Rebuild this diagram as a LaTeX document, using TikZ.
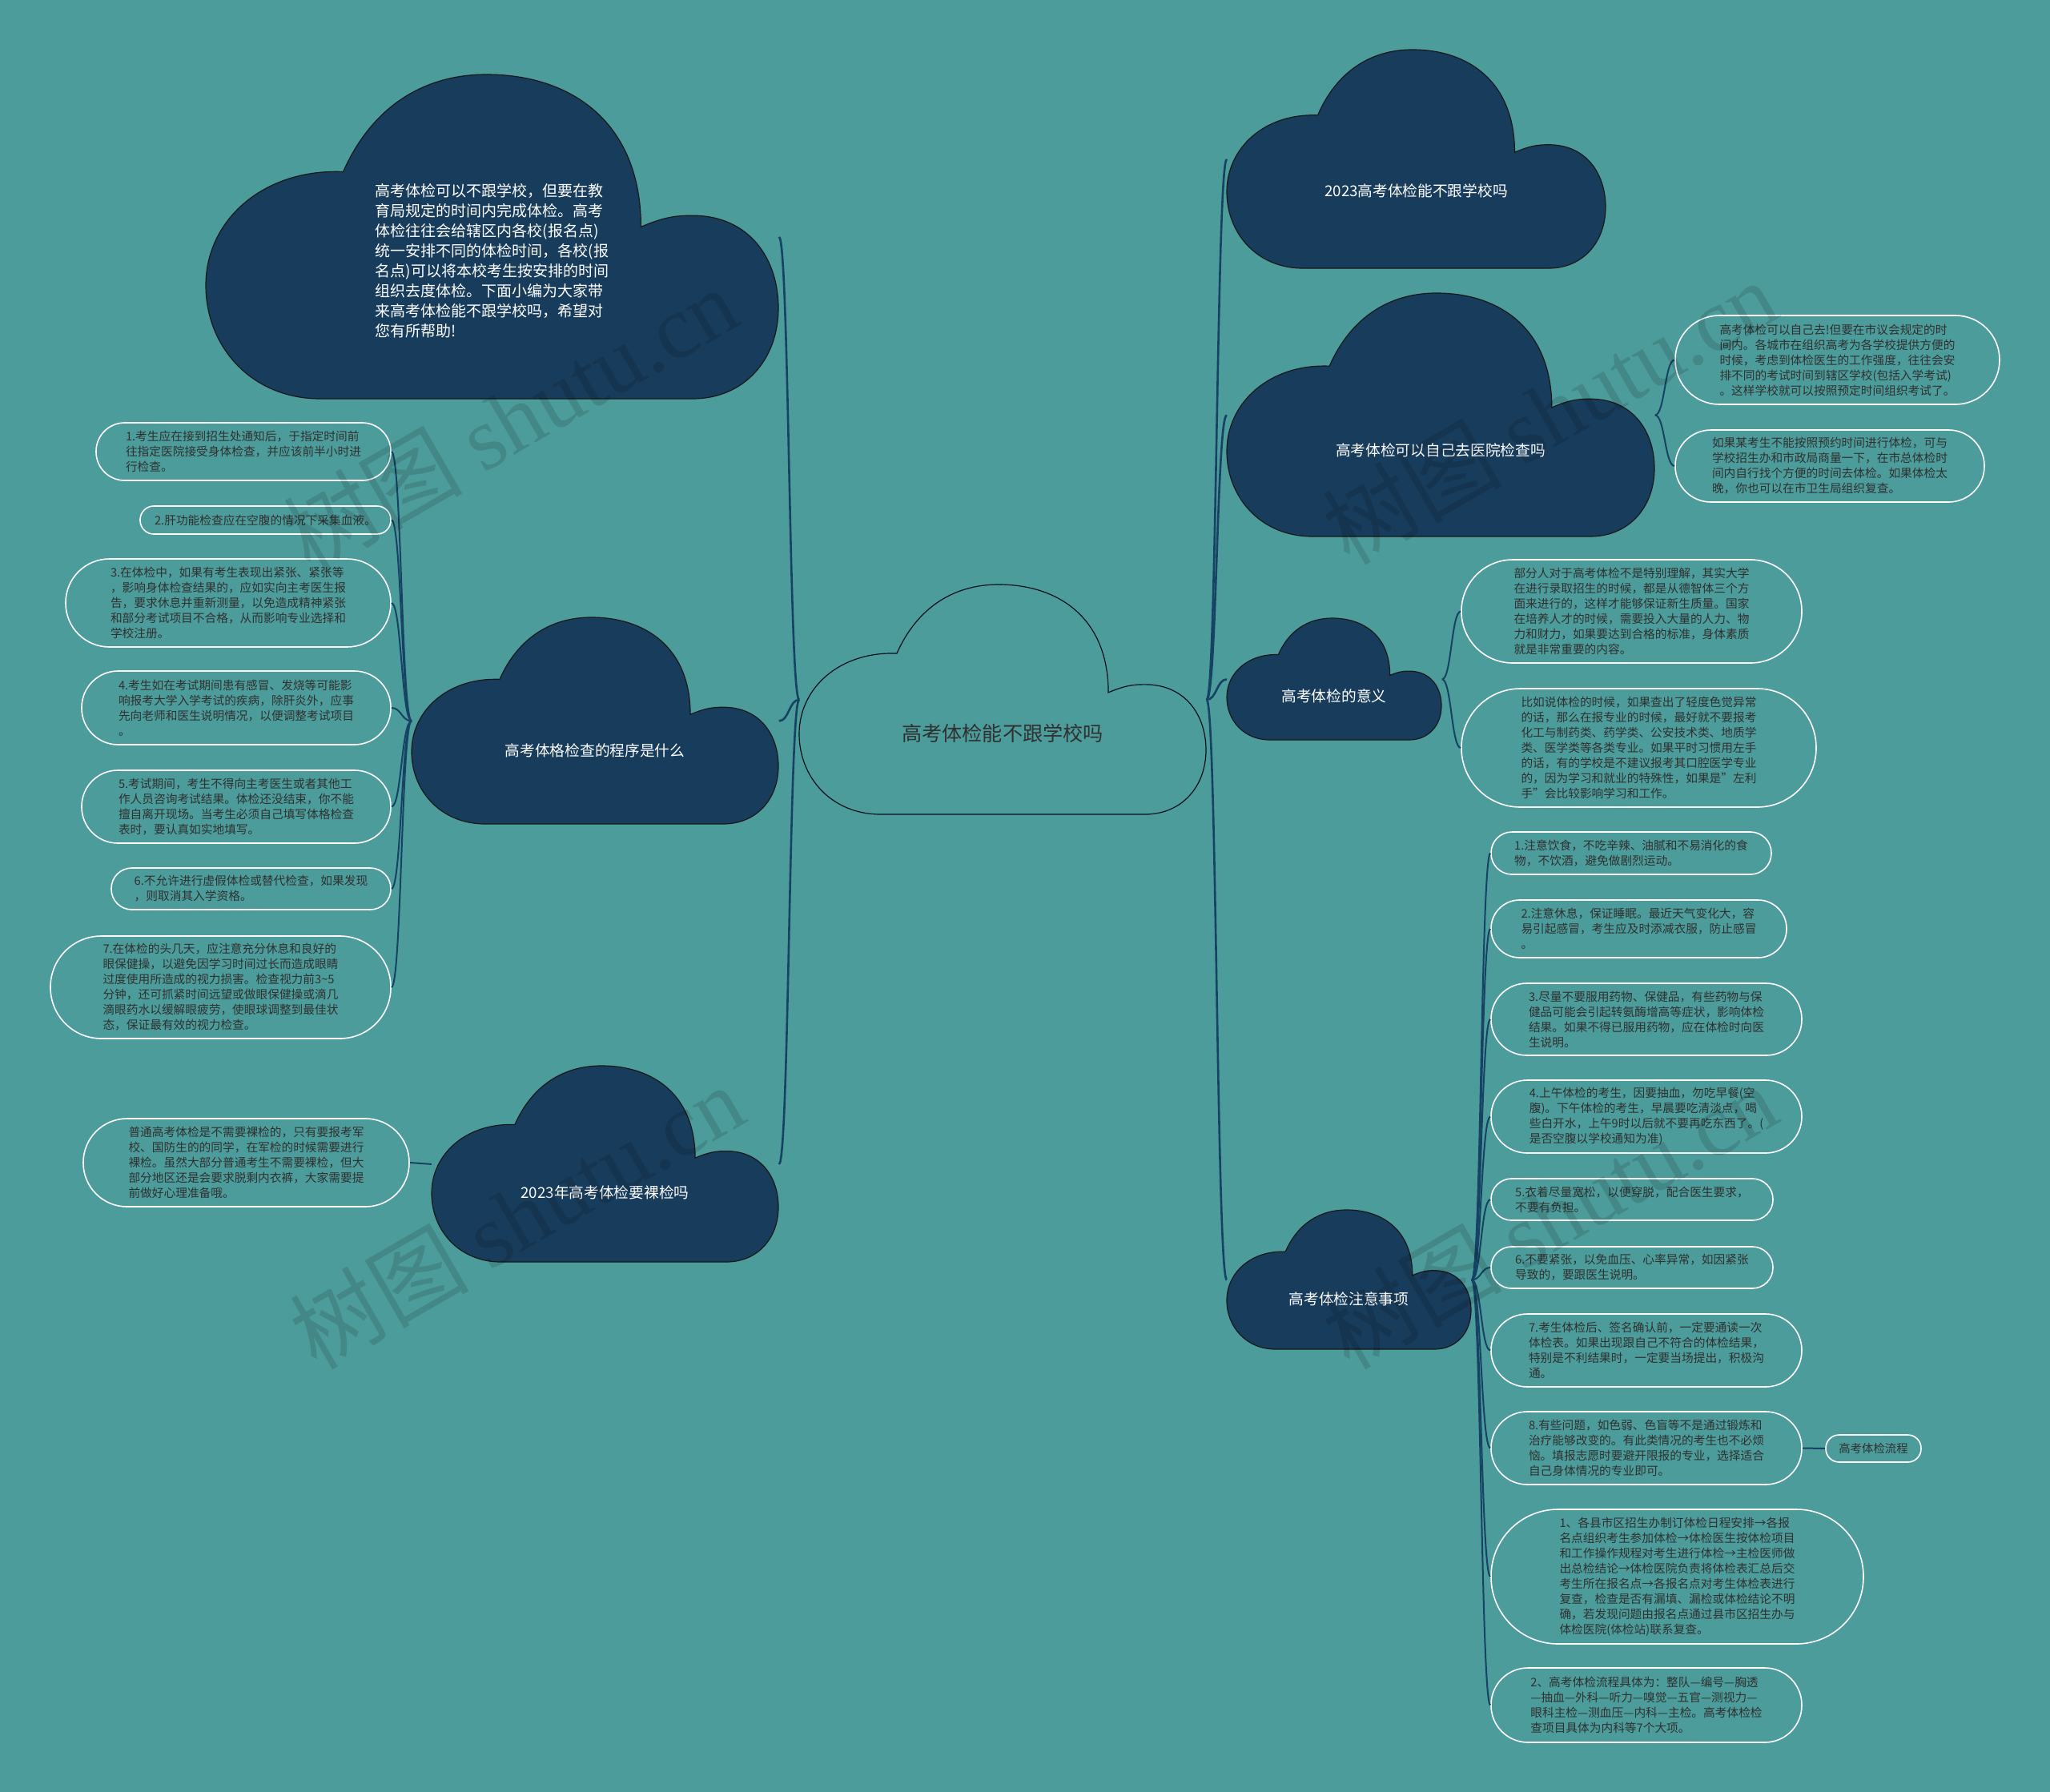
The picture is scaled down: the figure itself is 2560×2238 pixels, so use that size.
\documentclass[tikz,border=0pt]{standalone}
\usepackage{fontspec}
\setmainfont{Noto Sans CJK SC}
\newfontfamily\wmlatin{Liberation Serif}
\usetikzlibrary{calc}
\definecolor{bg}{RGB}{77,156,156}
\definecolor{cfill}{RGB}{24,60,92}
\definecolor{conncol}{RGB}{22,66,99}
\definecolor{leaftext}{RGB}{48,48,48}
\definecolor{centertext}{RGB}{48,48,48}
\tikzset{
  cbox/.style={draw=none, inner sep=0pt, rectangle},
  darkcloud/.style={fill=cfill, draw=black!90, line width=0.6pt},
  centercloud/.style={draw=black!75!conncol, line width=0.6pt},
  ctext/.style={text=white, font=\fontsize{9.35}{11}\selectfont, inner sep=0pt},
  maintext/.style={text=centertext, font=\fontsize{12.6}{14}\selectfont, inner sep=0pt},
  leaf/.style={draw=white, line width=0.8pt, rectangle, inner sep=0pt, text=leaftext, align=left, font=\fontsize{7.35}{9.5}\selectfont},
  wh/.style 2 args={minimum width=#1*0.5pt, minimum height=#2*0.5pt, rounded corners=#2*0.25pt-0.2pt},
  conn/.style={to path={let \p1=(\tikztostart), \p2=(\tikztotarget) in
      .. controls ({0.5*\x1+0.5*\x2},\y1) and ({0.5*\x1+0.5*\x2},\y2) .. (\tikztotarget)}},
  mconn/.style={draw=conncol, line width=1.3pt},
  lconn/.style={draw=conncol, line width=1pt},
  wm/.style={opacity=0.13, text=black, rotate=30, inner sep=0pt, font=\fontsize{56}{60}\selectfont}
}
% name, x0, y0, w, h, shape style, text style, text v-position, text
\newcommand\cloudat[9]{%
  \node[cbox, minimum width=#4*0.5pt, minimum height=#5*0.5pt, anchor=north west] (#1) at (#2,#3) {};
  \begin{scope}[shift={(#2,#3)}, xscale=#4, yscale=#5]
    \path[#6] (0.2,1) .. controls (0.08,1) and (0,0.84) .. (0,0.65)
      .. controls (0,0.45) and (0.1,0.29) .. (0.24,0.30)
      .. controls (0.29,0.10) and (0.38,0) .. (0.49,0)
      .. controls (0.64,0) and (0.76,0.15) .. (0.76,0.47)
      .. controls (0.80,0.44) and (0.82,0.435) .. (0.85,0.435)
      .. controls (0.95,0.435) and (1,0.57) .. (1,0.72)
      .. controls (1,0.88) and (0.94,1) .. (0.85,1) -- cycle;
    \node[#7] (#1t) at (0.5,#8) {#9};
  \end{scope}}
\begin{document}
\begin{tikzpicture}[x=0.5pt,y=-0.5pt]
\fill[bg] (0,0) rectangle (2560,2238);
\useasboundingbox (0,0) rectangle (2560,2238);

% ---- clouds ----
\cloudat{C0}{998}{730}{508}{287}{centercloud}{maintext}{0.648}{高考体检能不跟学校吗}
\cloudat{L1}{257}{93}{715}{405}{darkcloud}{ctext, align=left, font=\fontsize{9.5}{12.5}\selectfont}{0.574}{高考体检可以不跟学校，但要在教\\育局规定的时间内完成体检。高考\\体检往往会给辖区内各校(报名点)\\统一安排不同的体检时间，各校(报\\名点)可以将本校考生按安排的时间\\组织去度体检。下面小编为大家带\\来高考体检能不跟学校吗，希望对\\您有所帮助!}
\cloudat{L2}{514}{771}{458}{258}{darkcloud}{ctext}{0.645}{高考体格检查的程序是什么}
\cloudat{L3}{539}{1331}{433}{245}{darkcloud}{ctext}{0.645}{2023年高考体检要裸检吗}
\cloudat{R1}{1532}{62}{473}{273}{darkcloud}{ctext}{0.645}{2023高考体检能不跟学校吗}
\cloudat{R2}{1532}{366}{534}{304}{darkcloud}{ctext}{0.645}{高考体检可以自己去医院检查吗}
\cloudat{R3}{1532}{772}{268}{152}{darkcloud}{ctext}{0.64}{高考体检的意义}
\cloudat{R4}{1532}{1511}{305}{174}{darkcloud}{ctext}{0.64}{高考体检注意事项}

% ---- left leaves ----
\node[leaf, wh={368}{72}] (A1) at (304,564) {1.考生应在接到招生处通知后，于指定时间前\\往指定医院接受身体检查，并应该前半小时进\\行检查。};
\node[leaf, wh={313}{35}] (A2) at (331.5,649.5) {2.肝功能检查应在空腹的情况下采集血液。};
\node[leaf, wh={406}{110}] (A3) at (285,753) {3.在体检中，如果有考生表现出紧张、紧张等\\，影响身体检查结果的，应如实向主考医生报\\告，要求休息并重新测量，以免造成精神紧张\\和部分考试项目不合格，从而影响专业选择和\\学校注册。};
\node[leaf, wh={386}{92}] (A4) at (295,884) {4.考生如在考试期间患有感冒、发烧等可能影\\响报考大学入学考试的疾病，除肝炎外，应事\\先向老师和医生说明情况，以便调整考试项目\\。};
\node[leaf, wh={386}{91}] (A5) at (295,1007.5) {5.考试期间，考生不得向主考医生或者其他工\\作人员咨询考试结果。体检还没结束，你不能\\擅自离开现场。当考生必须自己填写体格检查\\表时，要认真如实地填写。};
\node[leaf, wh={349}{52}] (A6) at (313.5,1110) {6.不允许进行虚假体检或替代检查，如果发现\\，则取消其入学资格。};
\node[leaf, wh={425}{128}] (A7) at (275.5,1233) {7.在体检的头几天，应注意充分休息和良好的\\眼保健操，以避免因学习时间过长而造成眼睛\\过度使用所造成的视力损害。检查视力前3\textasciitilde 5\\分钟，还可抓紧时间远望或做眼保健操或滴几\\滴眼药水以缓解眼疲劳，使眼球调整到最佳状\\态，保证最有效的视力检查。};
\node[leaf, wh={407}{110}] (B1) at (307.5,1452) {普通高考体检是不需要裸检的，只有要报考军\\校、国防生的的同学，在军检的时候需要进行\\裸检。虽然大部分普通考生不需要裸检，但大\\部分地区还是会要求脱剩内衣裤，大家需要提\\前做好心理准备哦。};

% ---- right leaves ----
\node[leaf, wh={405}{111}] (C1) at (2294.5,449.5) {高考体检可以自己去!但要在市议会规定的时\\间内。各城市在组织高考为各学校提供方便的\\时候，考虑到体检医生的工作强度，往往会安\\排不同的考试时间到辖区学校(包括入学考试)\\。这样学校就可以按照预定时间组织考试了。};
\node[leaf, wh={386}{90}] (C2) at (2285,582) {如果某考生不能按照预约时间进行体检，可与\\学校招生办和市政局商量一下，在市总体检时\\间内自行找个方便的时间去体检。如果体检太\\晚，你也可以在市卫生局组织复查。};
\node[leaf, wh={425}{129}] (D1) at (2037.5,763.5) {部分人对于高考体检不是特别理解，其实大学\\在进行录取招生的时候，都是从德智体三个方\\面来进行的，这样才能够保证新生质量。国家\\在培养人才的时候，需要投入大量的人力、物\\力和财力，如果要达到合格的标准，身体素质\\就是非常重要的内容。};
\node[leaf, wh={443}{148}] (D2) at (2046.5,934) {比如说体检的时候，如果查出了轻度色觉异常\\的话，那么在报专业的时候，最好就不要报考\\化工与制药类、药学类、公安技术类、地质学\\类、医学类等各类专业。如果平时习惯用左手\\的话，有的学校是不建议报考其口腔医学专业\\的，因为学习和就业的特殊性，如果是"左利\\手"会比较影响学习和工作。};
\node[leaf, wh={350}{53}] (E1) at (2037,1065.5) {1.注意饮食，不吃辛辣、油腻和不易消化的食\\物，不饮酒，避免做剧烈运动。};
\node[leaf, wh={369}{72}] (E2) at (2046.5,1160) {2.注意休息，保证睡眠。最近天气变化大，容\\易引起感冒，考生应及时添减衣服，防止感冒\\。};
\node[leaf, wh={388}{90}] (E3) at (2056,1273) {3.尽量不要服用药物、保健品，有些药物与保\\健品可能会引起转氨酶增高等症状，影响体检\\结果。如果不得已服用药物，应在体检时向医\\生说明。};
\node[leaf, wh={388}{91}] (E4) at (2056,1394.5) {4.上午体检的考生，因要抽血，勿吃早餐(空\\腹)。下午体检的考生，早晨要吃清淡点，喝\\些白开水，上午9时以后就不要再吃东西了。(\\是否空腹以学校通知为准)};
\node[leaf, wh={352}{52}] (E5) at (2038,1498) {5.衣着尽量宽松，以便穿脱，配合医生要求，\\不要有负担。};
\node[leaf, wh={352}{52}] (E6) at (2038,1583) {6.不要紧张，以免血压、心率异常，如因紧张\\导致的，要跟医生说明。};
\node[leaf, wh={388}{91}] (E7) at (2056,1686.5) {7.考生体检后、签名确认前，一定要通读一次\\体检表。如果出现跟自己不符合的体检结果，\\特别是不利结果时，一定要当场提出，积极沟\\通。};
\node[leaf, wh={388}{91}] (E8) at (2056,1808.5) {8.有些问题，如色弱、色盲等不是通过锻炼和\\治疗能够改变的。有此类情况的考生也不必烦\\恼。填报志愿时要避开限报的专业，选择适合\\自己身体情况的专业即可。};
\node[leaf, wh={465}{168}] (E9) at (2094.5,1969) {1、各县市区招生办制订体检日程安排→各报\\名点组织考生参加体检→体检医生按体检项目\\和工作操作规程对考生进行体检→主检医师做\\出总检结论→体检医院负责将体检表汇总后交\\考生所在报名点→各报名点对考生体检表进行\\复查，检查是否有漏填、漏检或体检结论不明\\确，若发现问题由报名点通过县市区招生办与\\体检医院(体检站)联系复查。};
\node[leaf, wh={388}{93}] (E10) at (2056,2129.5) {2、高考体检流程具体为：整队—编号—胸透\\—抽血—外科—听力—嗅觉—五官—测视力—\\眼科主检—测血压—内科—主检。高考体检检\\查项目具体为内科等7个大项。};
\node[leaf, wh={119}{34}, font=\fontsize{7.2}{8.5}\selectfont] (F) at (2339.5,1809) {高考体检流程};

% ---- connectors ----
\foreach \t in {L1,L2,L3} \draw[mconn] (C0.west) to[conn] (\t.east);
\foreach \t in {R1,R2,R3,R4} \draw[mconn] (C0.east) to[conn] (\t.west);
\foreach \t in {A1,A2,A3,A4,A5,A6,A7} \draw[lconn] (L2.west) to[conn] (\t.east);
\draw[lconn] (L3.west) to[conn] (B1.east);
\foreach \t in {C1,C2} \draw[lconn] (R2.east) to[conn] (\t.west);
\foreach \t in {D1,D2} \draw[lconn] (R3.east) to[conn] (\t.west);
\foreach \t in {E1,E2,E3,E4,E5,E6,E7,E8,E9,E10} \draw[lconn] (R4.east) to[conn] (\t.west);
\draw[lconn] (E8.east) to[conn] (F.west);

% ---- watermarks ----
\node[wm] (W1) at (637,523) {树图 {\wmlatin shutu.cn}};
\node[wm] (W2) at (1935,514) {树图 {\wmlatin shutu.cn}};
\node[wm] (W3) at (645,1519) {树图 {\wmlatin shutu.cn}};
\node[wm] (W4) at (1935,1519) {树图 {\wmlatin shutu.cn}};
\end{tikzpicture}
\end{document}
